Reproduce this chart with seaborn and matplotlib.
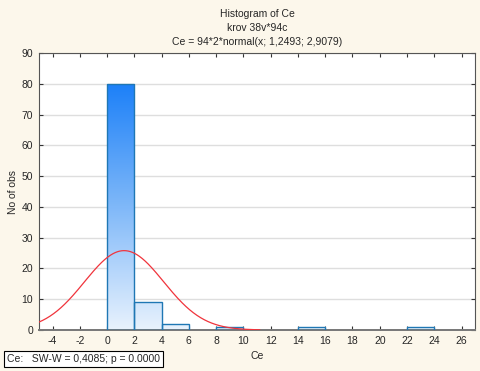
import numpy as np
import pandas as pd
import matplotlib
matplotlib.use("Agg")
import matplotlib.pyplot as plt
from matplotlib.colors import LinearSegmentedColormap
import seaborn as sns

# =====================================
# DATA
# =====================================

bin_edges = [0, 2, 4, 6, 8, 10, 12, 14, 16, 18, 20, 22, 24]
bin_counts = [80, 9, 2, 0, 1, 0, 0, 1, 0, 0, 0, 1]

n_obs = 94
bin_width = 2
fit_mean = 1.2493
fit_sd = 2.9079
curve_range = (-5, 11.2)

x_ticks = list(range(-4, 27, 2))
y_ticks = list(range(0, 91, 10))

# =====================================
# STYLE
# =====================================

sns.set_style("white")
plt.rcParams["font.family"] = ["Liberation Sans", "DejaVu Sans"]
plt.rcParams["font.size"] = 7.5
plt.rcParams["axes.unicode_minus"] = False

bg = "#fcf7eb"
fig = plt.figure(figsize=(4.8, 3.71), dpi=100, facecolor=bg)
ax = fig.add_axes([0.081, 0.1105, 0.909, 0.7465])
ax.set_facecolor("white")

# =====================================
# HISTOGRAM
# =====================================

centers = [(a + b) / 2 for a, b in zip(bin_edges[:-1], bin_edges[1:])]
hist_df = pd.DataFrame({"Ce": centers, "count": bin_counts})

sns.histplot(
    data=hist_df,
    x="Ce",
    weights="count",
    bins=bin_edges,
    ax=ax,
    fill=False,
    edgecolor="#2050d0",
    linewidth=1,
    zorder=3
)

cmap = LinearSegmentedColormap.from_list(
    "statblue", ["#e8f2fd", "#7fb8f9", "#1c80f8"]
)
grad = np.linspace(0, 1, 256).reshape(-1, 1)

for patch in ax.patches:
    patch.set_alpha(1)
    if patch.get_height() <= 0:
        patch.set_visible(False)
        continue
    img = ax.imshow(
        grad,
        cmap=cmap,
        origin="lower",
        extent=[-5, 27, 0, 80],
        aspect="auto",
        zorder=2
    )
    img.set_clip_path(patch)

# =====================================
# NORMAL CURVE
# =====================================

xs = np.linspace(curve_range[0], curve_range[1], 300)
ys = n_obs * bin_width * np.exp(-0.5 * ((xs - fit_mean) / fit_sd) ** 2) / (
    fit_sd * np.sqrt(2 * np.pi)
)
sns.lineplot(x=xs, y=ys, ax=ax, color="#f0343c", linewidth=0.9, zorder=4)

# =====================================
# AXES
# =====================================

ax.set_xlim(-5, 27)
ax.set_ylim(0, 90)
ax.set_xticks(x_ticks)
ax.set_yticks(y_ticks)
ax.yaxis.grid(True, color="#dedede", linewidth=1)
ax.set_axisbelow(True)

ax.tick_params(
    direction="in",
    length=3,
    width=0.8,
    color="#333333",
    top=True,
    right=True,
    bottom=True,
    left=True,
    labelsize=7.5,
    pad=4
)

for side in ax.spines.values():
    side.set_color("#555555")
    side.set_linewidth(0.8)
ax.spines["bottom"].set_linewidth(1.4)
ax.spines["bottom"].set_color("#777777")

ax.set_xlabel("Ce", fontsize=7.5, labelpad=4)
ax.set_ylabel("No of obs", fontsize=7.5, labelpad=3)

ax.set_title(
    "Histogram of Ce\nkrov 38v*94c\nCe = 94*2*normal(x; 1,2493; 2,9079)",
    fontsize=7.5,
    linespacing=1.5,
    pad=6
)

fig.text(
    0.015,
    0.033,
    "Ce:   SW-W = 0,4085; p = 0.0000",
    fontsize=7.5,
    ha="left",
    va="center",
    bbox=dict(boxstyle="square,pad=0.3", facecolor="white",
              edgecolor="black", linewidth=0.8)
)

plt.savefig("out.png", dpi=100, facecolor=bg)
plt.close()
